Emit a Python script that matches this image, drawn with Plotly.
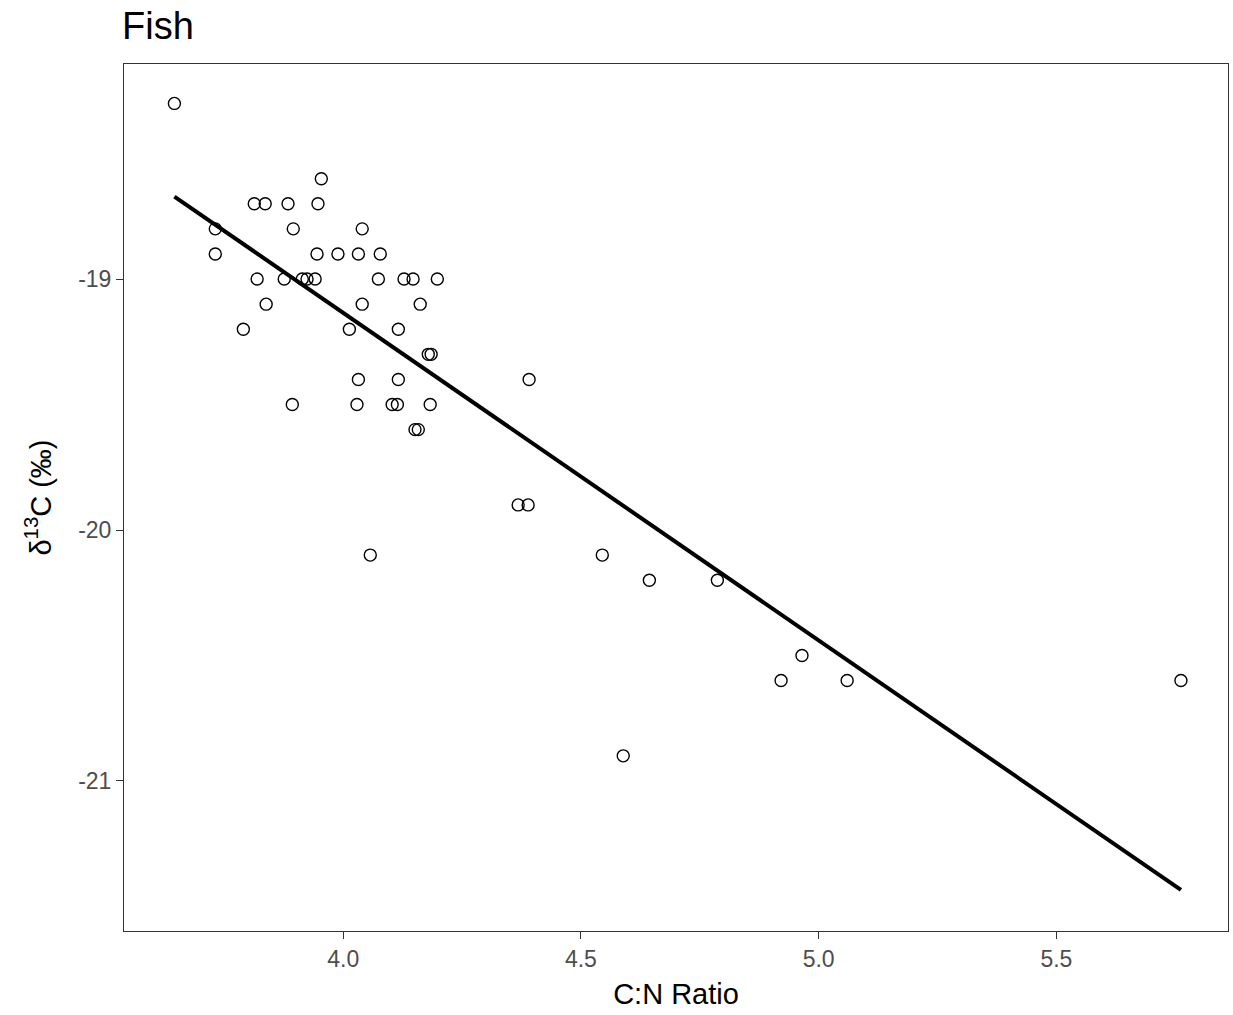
import numpy as np
import plotly.graph_objects as go

cn_ratio = [3.645, 3.731, 3.731, 3.813, 3.836, 3.884, 3.954, 3.947, 3.895, 4.040,
            3.945, 3.989, 4.032, 4.078, 3.819, 3.876, 3.914, 3.924, 3.941, 4.074,
            4.128, 4.147, 4.198, 3.838, 4.040, 4.162, 3.790, 4.013, 4.116, 4.179,
            4.185, 4.032, 4.116, 4.391, 3.893, 4.029, 4.103, 4.114, 4.183, 4.151,
            4.158, 4.368, 4.389, 4.057, 4.545, 4.644, 4.787, 4.965, 4.921, 5.060,
            5.762, 4.589]
d13c = [-18.3, -18.8, -18.9, -18.7, -18.7, -18.7, -18.6, -18.7, -18.8, -18.8,
        -18.9, -18.9, -18.9, -18.9, -19.0, -19.0, -19.0, -19.0, -19.0, -19.0,
        -19.0, -19.0, -19.0, -19.1, -19.1, -19.1, -19.2, -19.2, -19.2, -19.3,
        -19.3, -19.4, -19.4, -19.4, -19.5, -19.5, -19.5, -19.5, -19.5, -19.6,
        -19.6, -19.9, -19.9, -20.1, -20.1, -20.2, -20.2, -20.5, -20.6, -20.6,
        -20.6, -20.9]

x_ticks = [4.0, 4.5, 5.0, 5.5]
x_tick_labels = ["4.0", "4.5", "5.0", "5.5"]
y_ticks = [-19, -20, -21]
y_tick_labels = ["-19", "-20", "-21"]

x = np.array(cn_ratio)
y = np.array(d13c)
slope, intercept = np.polyfit(x, y, 1)
fit_x = np.array([x.min(), x.max()])
fit_y = slope * fit_x + intercept

fig = go.Figure()
fig.add_trace(go.Scatter(
    x=cn_ratio, y=d13c, mode="markers",
    marker=dict(symbol="circle-open", size=12, color="black", line=dict(width=1.4, color="black")),
    showlegend=False))
fig.add_trace(go.Scatter(
    x=fit_x, y=fit_y, mode="lines",
    line=dict(color="black", width=4),
    showlegend=False))

font = "Liberation Sans, Arial, sans-serif"
fig.update_layout(
    width=1233, height=1015,
    margin=dict(l=124, r=5, t=64, b=84),
    plot_bgcolor="white", paper_bgcolor="white",
    font=dict(family=font, color="black"),
    title=dict(text="Fish", x=122/1233, xanchor="left", y=1-26/1015, yanchor="middle",
               font=dict(size=38, family=font, color="black")),
    xaxis=dict(range=[3.539, 5.861], tickvals=x_ticks, ticktext=x_tick_labels,
               showgrid=False, zeroline=False, showline=True, mirror=True,
               linecolor="#333333", linewidth=1,
               ticks="outside", ticklen=7, tickcolor="#333333", tickwidth=1,
               tickfont=dict(size=23, color="#4d4d4d", family=font),
               title=dict(text="C:N Ratio", font=dict(size=29, color="black", family=font), standoff=13)),
    yaxis=dict(range=[-21.598, -18.143], tickvals=y_ticks, ticktext=y_tick_labels,
               showgrid=False, zeroline=False, showline=True, mirror=True,
               linecolor="#333333", linewidth=1,
               ticks="outside", ticklen=7, tickcolor="#333333", tickwidth=1,
               tickfont=dict(size=23, color="#4d4d4d", family=font),
               title=dict(text="δ<sup>13</sup>C (‰)", font=dict(size=29, color="black", family=font), standoff=18)),
)

fig.write_html("out.html")
